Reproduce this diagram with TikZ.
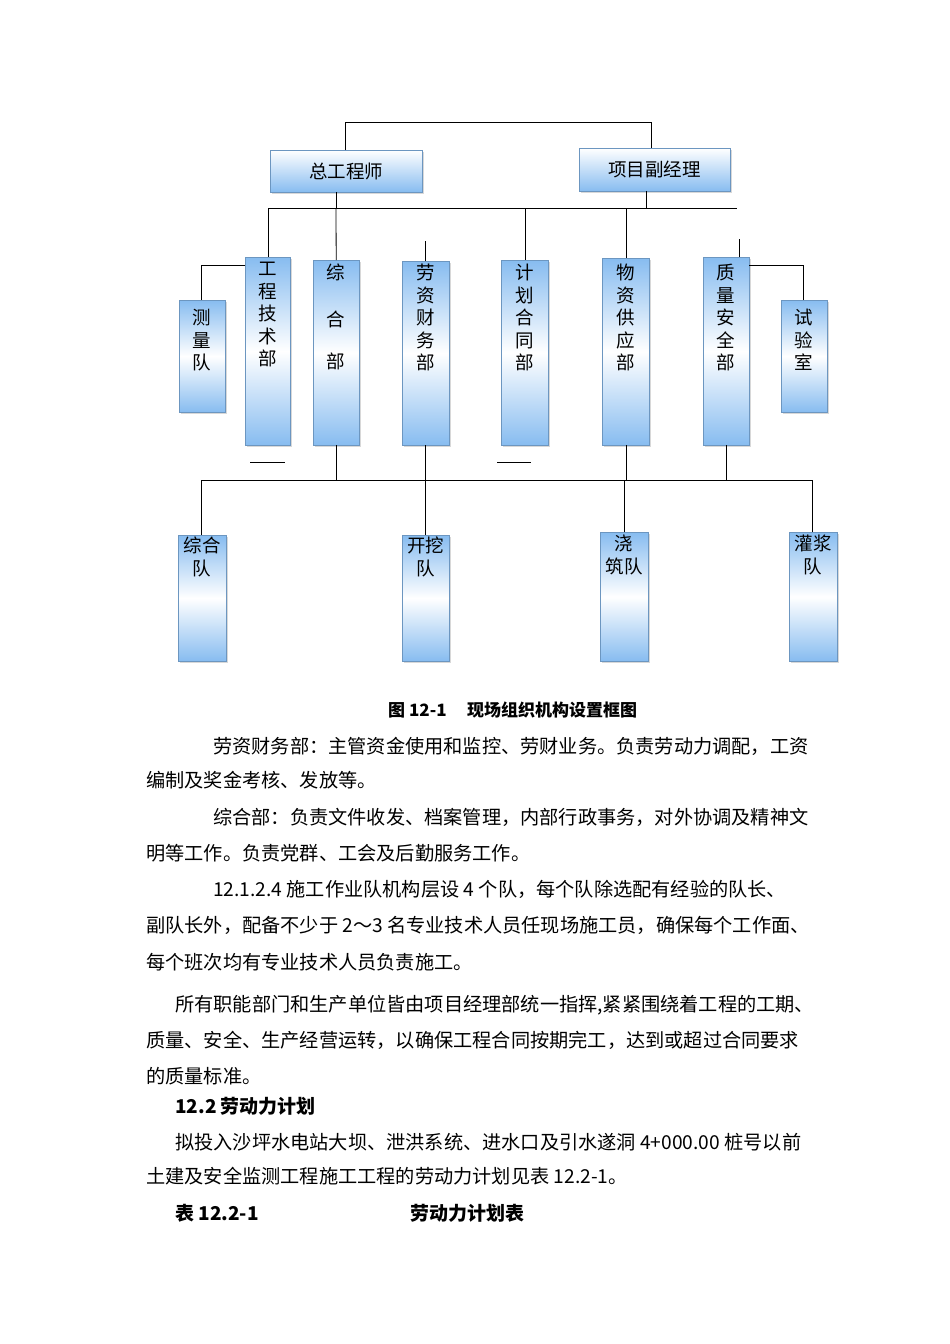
\documentclass[tikz,border=0pt]{standalone}
\usepackage{fontspec}
\setmainfont{Noto Sans CJK SC}
\usetikzlibrary{shadows}
\definecolor{bblue}{RGB}{135,188,240}
\tikzset{
  x=1pt,y=-1pt,
  vbox/.style={draw=bblue!80!black, line width=0.4pt, inner sep=0pt, top color=bblue, bottom color=bblue, middle color=white, shading angle=0, drop shadow={shadow xshift=2pt,shadow yshift=-2pt,fill=gray!60}},
  hbox/.style={draw=bblue!80!black, line width=0.4pt, inner sep=0pt, top color=white, bottom color=bblue, drop shadow={shadow xshift=2pt,shadow yshift=-2pt,fill=gray!60}},
  lbl/.style={font=\fontsize{18.5}{22.5}\selectfont, align=center, inner sep=0pt, anchor=north},
  ln/.style={line width=0.8pt},
  para/.style={font=\fontsize{19.2}{20}\selectfont, anchor=west, inner sep=0pt},
  bpara/.style={font=\fontsize{19}{20}\selectfont\bfseries, anchor=west, inner sep=0pt},
}
\newcommand{\bx}[6]{\node[#6, anchor=north west, minimum width={#4-#2}, minimum height={#5-#3}] (#1) at (#2,#3) {};}
\begin{document}
\begin{tikzpicture}
\useasboundingbox[fill=white] (0,0) rectangle (950,1344);
% top boxes
\bx{zg}{270}{150}{422}{192}{hbox}
\bx{xm}{579}{148}{730}{191}{hbox}
\node[lbl, anchor=center] at (zg.center) {总工程师};
\node[lbl, anchor=center] at (xm.center) {项目副经理};
% departments
\bx{gc}{245}{257}{290}{445}{vbox}
\bx{zh}{313}{260}{359}{445}{vbox}
\bx{lz}{402}{261}{449}{445}{vbox}
\bx{jh}{501}{260}{548}{445}{vbox}
\bx{wz}{602}{258}{649}{445}{vbox}
\bx{zl}{703}{257}{749}{445}{vbox}
\bx{cl}{179}{300}{225}{412}{vbox}
\bx{sy}{781}{300}{827}{412}{vbox}
\node[lbl] at (267.5,262) {工\\程\\技\\术\\部};
\node[lbl] at (336,264) {综\\[24pt]合\\[20pt]部};
\node[lbl] at (425.5,264) {劳\\资\\财\\务\\部};
\node[lbl] at (524.5,264) {计\\划\\合\\同\\部};
\node[lbl] at (625.5,264) {物\\资\\供\\应\\部};
\node[lbl] at (726,264) {质\\量\\安\\全\\部};
\node[lbl] at (202,309) {测\\量\\队};
\node[lbl] at (804,309) {试\\验\\室};
% teams
\bx{zhd}{178}{535}{226}{661}{vbox}
\bx{kw}{402}{535}{449}{661}{vbox}
\bx{jz}{600}{532}{648}{661}{vbox}
\bx{gj}{789}{532}{837}{661}{vbox}
\node[lbl] at (202,537) {综合\\队};
\node[lbl] at (425.5,537) {开挖\\队};
\node[lbl] at (624,535) {浇\\筑队};
\node[lbl] at (813,535) {灌浆\\队};
% connectors
\coordinate (t1) at (345,122); \coordinate (t2) at (651,122);
\draw[ln] (zg.north -| t1) -- (t1) -- (t2) -- (xm.north -| t2);
\coordinate (h1) at (268,208); \coordinate (h2) at (737,208);
\draw[ln] (h1) -- (h2);
\draw[ln] (zg.south -| 336,0) -- (336,208);
\draw[ln] (xm.south -| 646,0) -- (646,208);
\draw[ln] (h1) -- (gc.north -| h1);
\draw[ln] (336,208) -- (zh.north);
\draw[ln] (425,241) -- (lz.north -| 425,0);
\draw[ln] (525,208) -- (jh.north -| 525,0);
\draw[ln] (626,208) -- (wz.north -| 626,0);
\draw[ln] (739,239) -- (zl.north -| 739,0);
\draw[ln] (gc.west |- 0,265) -- (201,265) -- (cl.north -| 201,0);
\draw[ln] (zl.east |- 0,265) -- (803,265) -- (sy.north -| 803,0);
\draw[ln] (250,462) -- (285,462);
\draw[ln] (497,462) -- (531,462);
\coordinate (b1) at (201,480); \coordinate (b2) at (812,480);
\draw[ln] (b1) -- (b2);
\draw[ln] (zh.south -| 336,0) -- (336,480);
\draw[ln] (lz.south -| 425,0) -- (kw.north -| 425,0);
\draw[ln] (wz.south -| 626,0) -- (626,480) -- (624,480) -- (jz.north -| 624,0);
\draw[ln] (zl.south -| 726,0) -- (726,480);
\draw[ln] (b1) -- (zhd.north -| b1);
\draw[ln] (b2) -- (gj.north -| b2);
% text
\node[bpara, font=\fontsize{17}{20}\selectfont\bfseries] (cap) at (388,710) {图 12-1\hspace{1.2em}现场组织机构设置框图};
\node[para] (p1) at (213,746) {劳资财务部：主管资金使用和监控、劳财业务。负责劳动力调配，工资};
\node[para] (p2) at (146,780) {编制及奖金考核、发放等。};
\node[para] (p3) at (213,817) {综合部：负责文件收发、档案管理，内部行政事务，对外协调及精神文};
\node[para] (p4) at (146,853) {明等工作。负责党群、工会及后勤服务工作。};
\node[para] (p5) at (213,889) {12.1.2.4 施工作业队机构层设 4 个队，每个队除选配有经验的队长、};
\node[para] (p6) at (146,925) {副队长外，配备不少于 2～3 名专业技术人员任现场施工员，确保每个工作面、};
\node[para] (p7) at (146,962) {每个班次均有专业技术人员负责施工。};
\node[para] (p8) at (175,1005) {所有职能部门和生产单位皆由项目经理部统一指挥,紧紧围绕着工程的工期、};
\node[para] (p9) at (146,1040) {质量、安全、生产经营运转，以确保工程合同按期完工，达到或超过合同要求};
\node[para] (p10) at (146,1076) {的质量标准。};
\node[bpara] (h) at (175,1106) {12.2 劳动力计划};
\node[para] (p11) at (175,1142) {拟投入沙坪水电站大坝、泄洪系统、进水口及引水遂洞 4+000.00 桩号以前};
\node[para] (p12) at (146,1176) {土建及安全监测工程施工工程的劳动力计划见表 12.2-1。};
\node[bpara] (t) at (175,1213) {表 12.2-1};
\node[bpara] (t2n) at (410,1213) {劳动力计划表};
\end{tikzpicture}
\end{document}
